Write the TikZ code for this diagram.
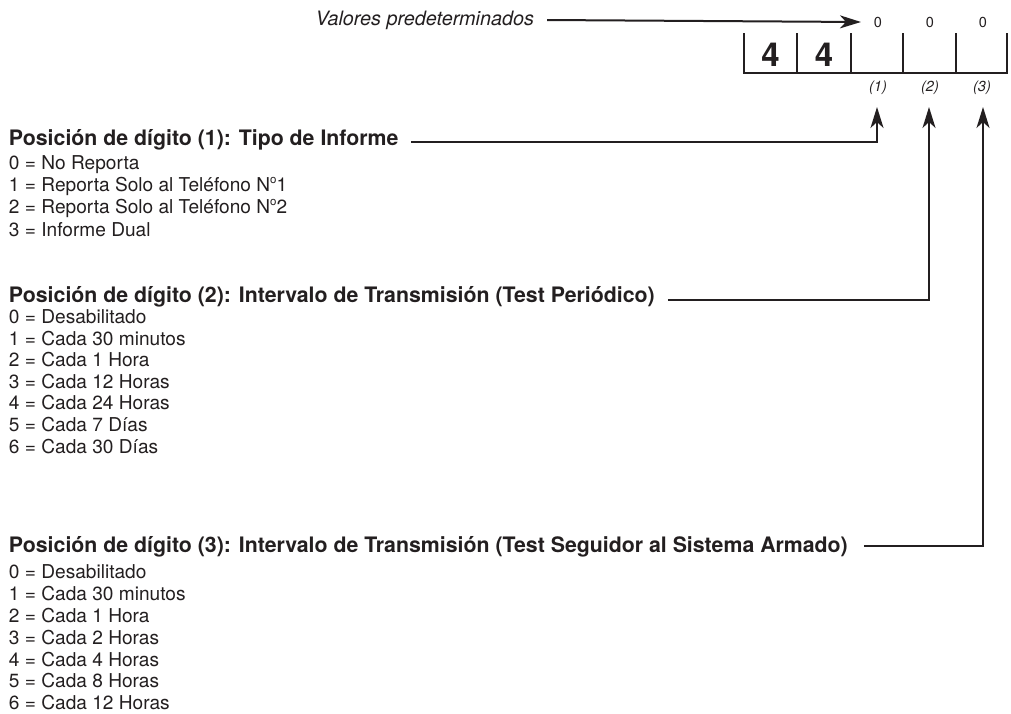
\documentclass[tikz,border=0pt]{standalone}
\usepackage{fontspec}
\setmainfont{TeX Gyre Heros}
\usetikzlibrary{arrows.meta}
\definecolor{ink}{HTML}{231F20}
\newcommand{\numo}{N\raisebox{0.42em}{\fontsize{11.5}{12}\selectfont o}}
\begin{document}
\begin{tikzpicture}[x=1pt,y=-1pt,
  every node/.style={inner sep=0pt,outer sep=0pt,text=ink},
  title/.style={anchor=west,font=\fontsize{21.3}{24}\selectfont\bfseries},
  item/.style={anchor=west,font=\fontsize{19.1}{22}\selectfont},
  small/.style={font=\fontsize{14.5}{16}\selectfont},
  smallit/.style={font=\fontsize{14.5}{16}\selectfont\itshape},
  big/.style={font=\fontsize{33}{34}\selectfont\bfseries},
  conn/.style={draw=ink,line width=2pt},
  boxline/.style={draw=ink,line width=2.6pt},
  tip/.style={-{Stealth[length=21pt,width=13pt,inset=6pt]}}]
\useasboundingbox (0,0) rectangle (1011,713);
% header
\node[anchor=east,font=\fontsize{19.8}{22}\selectfont\itshape] (val) at (534,20) {Valores predeterminados};
\node[small] (z1) at (878,22) {0};
\node[small] (z2) at (930,22) {0};
\node[small] (z3) at (983,22) {0};
\draw[conn,tip] ([xshift=13pt]val.east) -- ([xshift=-13pt]z1.west);
% register box
\draw[boxline] (744,33) -- (744,73) -- (1007,73) -- (1007,33);
\foreach \x in {797,851,903,956} \draw[boxline] (\x,33) -- (\x,73);
\node[big] (d1) at (770.5,55) {4};
\node[big] (d2) at (824,55) {4};
\node[smallit] (p1) at (878,88) {(1)};
\node[smallit] (p2) at (930,88) {(2)};
\node[smallit] (p3) at (982,88) {(3)};
\coordinate (a1) at (877,107);
\coordinate (a2) at (929,107);
\coordinate (a3) at (983,107);
% section 1
\node[title] (t1) at (9,140) {Posición de dígito (1): Tipo de Informe};
\draw[conn,tip] ([xshift=13pt,yshift=-1.5pt]t1.east) -| (a1);
\foreach \t [count=\i from 0] in {No Reporta,Reporta Solo al Teléfono \numo1,Reporta Solo al Teléfono \numo2,Informe Dual}
  \node[item] (s1\i) at (9,165+21.7*\i) {\i\ = \t};
% section 2
\node[title] (t2) at (9,297) {Posición de dígito (2): Intervalo de Transmisión (Test Periódico)};
\draw[conn,tip] ([xshift=13pt,yshift=-2.5pt]t2.east) -| (a2);
\foreach \t [count=\i from 0] in {Desabilitado,Cada 30 minutos,Cada 1 Hora,Cada 12 Horas,Cada 24 Horas,Cada 7 Días,Cada 30 Días}
  \node[item] (s2\i) at (9,316.5+21.6*\i) {\i\ = \t};
% section 3
\node[title] (t3) at (9,547) {Posición de dígito (3): Intervalo de Transmisión (Test Seguidor al Sistema Armado)};
\draw[conn,tip] ([xshift=16pt,yshift=1.5pt]t3.east) -| (a3);
\foreach \t [count=\i from 0] in {Desabilitado,Cada 30 minutos,Cada 1 Hora,Cada 2 Horas,Cada 4 Horas,Cada 8 Horas,Cada 12 Horas}
  \node[item] (s3\i) at (9,572+21.8*\i) {\i\ = \t};
\end{tikzpicture}
\end{document}
